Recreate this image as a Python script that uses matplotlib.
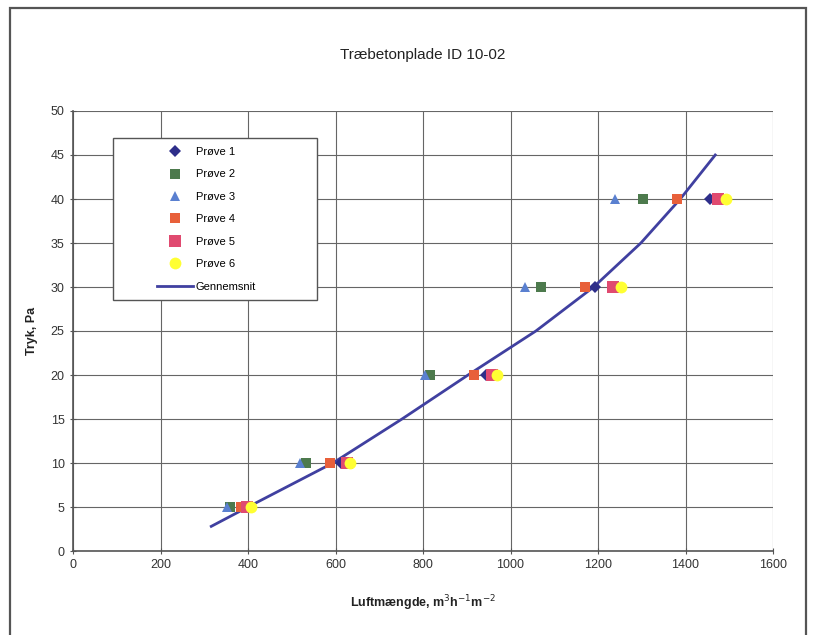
import matplotlib
matplotlib.use("Agg")
import matplotlib.pyplot as plt
from matplotlib.patches import Rectangle

plt.rcParams['font.family'] = ['Liberation Sans', 'DejaVu Sans']

pressure = [5, 10, 20, 30, 40]
p1 = [390, 612, 943, 1193, 1456]
p2 = [358, 533, 816, 1070, 1303]
p3 = [352, 519, 805, 1033, 1239]
p4 = [384, 587, 916, 1170, 1380]
p5 = [397, 626, 958, 1234, 1474]
p6 = [407, 633, 969, 1252, 1492]

avg_x = [316, 400, 594, 752, 903, 1058, 1190, 1298, 1388, 1468]
avg_y = [2.8, 5, 10, 15, 20, 25, 30, 35, 40, 45]

series = [
    ("Prøve 1", p1, "D", "#2e2e8a", 6),
    ("Prøve 2", p2, "s", "#4d7a4d", 6.5),
    ("Prøve 3", p3, "^", "#5a80d0", 7),
    ("Prøve 4", p4, "s", "#e8603a", 7),
    ("Prøve 5", p5, "s", "#e04a70", 8),
    ("Prøve 6", p6, "o", "#ffff33", 8.5),
]

fig = plt.figure(figsize=(8.16, 6.35), dpi=100)
fig.patches.append(Rectangle((10/816, -0.05), 796/816, 1.05 - 8/635,
                             transform=fig.transFigure, fill=False,
                             edgecolor="#555555", linewidth=1.6))
ax = fig.add_axes([73/816, 1 - 551/635, 700/816, 440/635])

for label, xs, m, c, ms in series:
    ax.plot(xs, pressure, linestyle="none", marker=m, color=c,
            markersize=ms, markeredgewidth=0, label=label, zorder=3)
ax.plot(avg_x, avg_y, color="#4040a0", linewidth=2, label="Gennemsnit", zorder=2)

ax.set_xlim(0, 1600)
ax.set_ylim(0, 50)
ax.set_xticks(range(0, 1601, 200))
ax.set_yticks(range(0, 51, 5))
ax.grid(True, color="#666666", linewidth=0.8)
ax.set_axisbelow(True)
for s in ["top", "right"]:
    ax.spines[s].set_visible(False)
for s in ["left", "bottom"]:
    ax.spines[s].set_color("#555555")
    ax.spines[s].set_linewidth(1.2)
ax.tick_params(direction="inout", length=5, color="#555555", labelsize=9,
               labelcolor="#333333")

fig.text(0.5 * (73 + 773) / 816, 1 - 55 / 635, "Træbetonplade ID 10-02",
         fontsize=11, color="#222222", ha="center", va="center")
ax.set_xlabel("Luftmængde, m$^3$h$^{-1}$m$^{-2}$", fontsize=9, fontweight="bold",
              labelpad=16, color="#222222")
ax.set_ylabel("Tryk, Pa", fontsize=9, fontweight="bold", labelpad=9, color="#222222")

# legend frame drawn separately to match the wide box
ax.add_patch(Rectangle(((113 - 73) / 700, (551 - 300) / 440), 204 / 700, 162 / 440,
                       transform=ax.transAxes, facecolor="white",
                       edgecolor="#555555", linewidth=1.0, zorder=4))
leg = ax.legend(loc="upper left", bbox_to_anchor=((157 - 73) / 700, (551 - 147) / 440),
                fontsize=8, labelspacing=1.12, frameon=False,
                borderpad=0, handlelength=3.2, handletextpad=0.3, borderaxespad=0)
leg.set_zorder(5)

fig.savefig("out.png", dpi=100)
